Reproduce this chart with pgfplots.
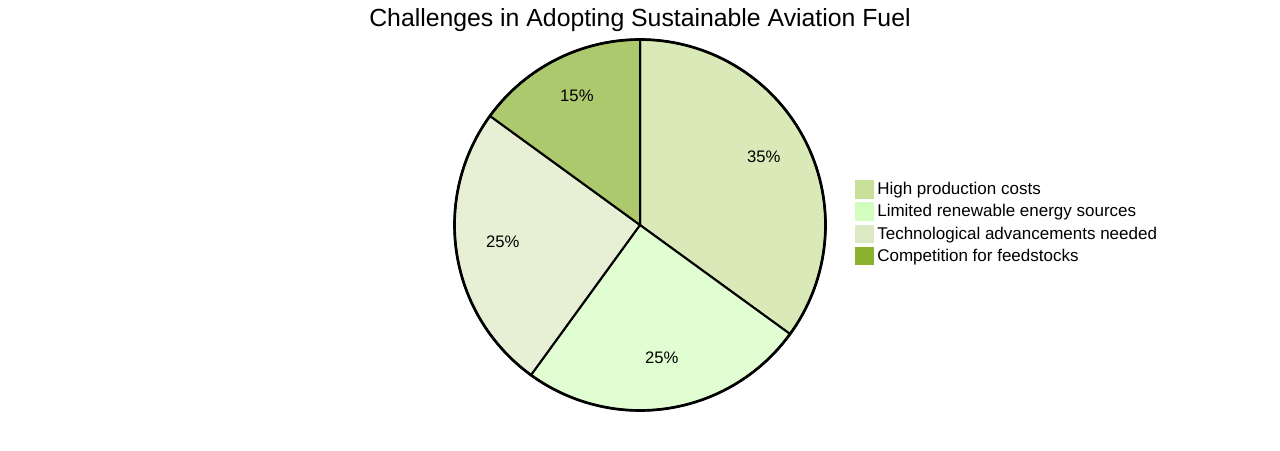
\documentclass[border=0pt]{standalone}
\usepackage{pgfplots}
\pgfplotsset{compat=1.18}
\usepackage{fontspec}
\setmainfont{Liberation Sans}
\definecolor{c1}{HTML}{C9E09A}
\definecolor{c2}{HTML}{D3FDBF}
\definecolor{c3}{HTML}{DDE9C3}
\definecolor{c4}{HTML}{8AB22F}
% values (percent): 35, 25, 25, 15 ; start at 90 deg, clockwise
\begin{document}
\begin{tikzpicture}
\begin{axis}[
  scale only axis, width=960pt, height=337.5pt,
  xmin=0, xmax=1280, ymin=0, ymax=450,
  hide axis, clip=false,
  legend cell align=left,
  legend style={draw=none, fill=none, font=\fontsize{12.75}{15}\selectfont,
    at={(axis description cs:0.668,0.600)}, anchor=north west,
    inner sep=0pt, row sep=2.6pt,
    nodes={inner xsep=2.5pt, inner ysep=0.5pt}},
  legend image code/.code={\fill[#1] (0pt,-7pt) rectangle (14pt,7pt);},
]
\path (axis cs:0,0) rectangle (axis cs:1280,450);
\def\R{185.5}
\addplot[forget plot, fill=c1, fill opacity=0.7, draw=black, line width=1.5pt, domain=90-3.6*35:90, samples=80, variable=\t]
  ({640+\R*cos(t)},{225+\R*sin(t)}) -- (axis cs:640,225) -- cycle;
\addplot[forget plot, fill=c2, fill opacity=0.7, draw=black, line width=1.5pt, domain=90-3.6*60:90-3.6*35, samples=80, variable=\t]
  ({640+\R*cos(t)},{225+\R*sin(t)}) -- (axis cs:640,225) -- cycle;
\addplot[forget plot, fill=c3, fill opacity=0.7, draw=black, line width=1.5pt, domain=90-3.6*85:90-3.6*60, samples=80, variable=\t]
  ({640+\R*cos(t)},{225+\R*sin(t)}) -- (axis cs:640,225) -- cycle;
\addplot[forget plot, fill=c4, fill opacity=0.7, draw=black, line width=1.5pt, domain=90-3.6*100:90-3.6*85, samples=60, variable=\t]
  ({640+\R*cos(t)},{225+\R*sin(t)}) -- (axis cs:640,225) -- cycle;
\addplot[forget plot, draw=black, line width=2pt, domain=0:360, samples=200, variable=\t]
  ({640+\R*cos(t)},{225+\R*sin(t)});
\def\r{139}
\node[font=\fontsize{12.5}{15}\selectfont] at (axis cs:{640+\r*cos(90-3.6*17.5)},{230+\r*sin(90-3.6*17.5)}) {35\%};
\node[font=\fontsize{12.5}{15}\selectfont] at (axis cs:{640+\r*cos(90-3.6*47.5)},{230+\r*sin(90-3.6*47.5)}) {25\%};
\node[font=\fontsize{12.5}{15}\selectfont] at (axis cs:{640+\r*cos(90-3.6*72.5)},{230+\r*sin(90-3.6*72.5)}) {25\%};
\node[font=\fontsize{12.5}{15}\selectfont] at (axis cs:{640+\r*cos(90-3.6*92.5)},{230+\r*sin(90-3.6*92.5)}) {15\%};
\node[font=\fontsize{18.6}{22}\selectfont] at (axis cs:640,430) {Challenges in Adopting Sustainable Aviation Fuel};
\addlegendimage{fill=c1, draw=none}
\addlegendentry{High production costs}
\addlegendimage{fill=c2, draw=none}
\addlegendentry{Limited renewable energy sources}
\addlegendimage{fill=c3, draw=none}
\addlegendentry{Technological advancements needed}
\addlegendimage{fill=c4, draw=none}
\addlegendentry{Competition for feedstocks}
\end{axis}
\end{tikzpicture}
\end{document}
